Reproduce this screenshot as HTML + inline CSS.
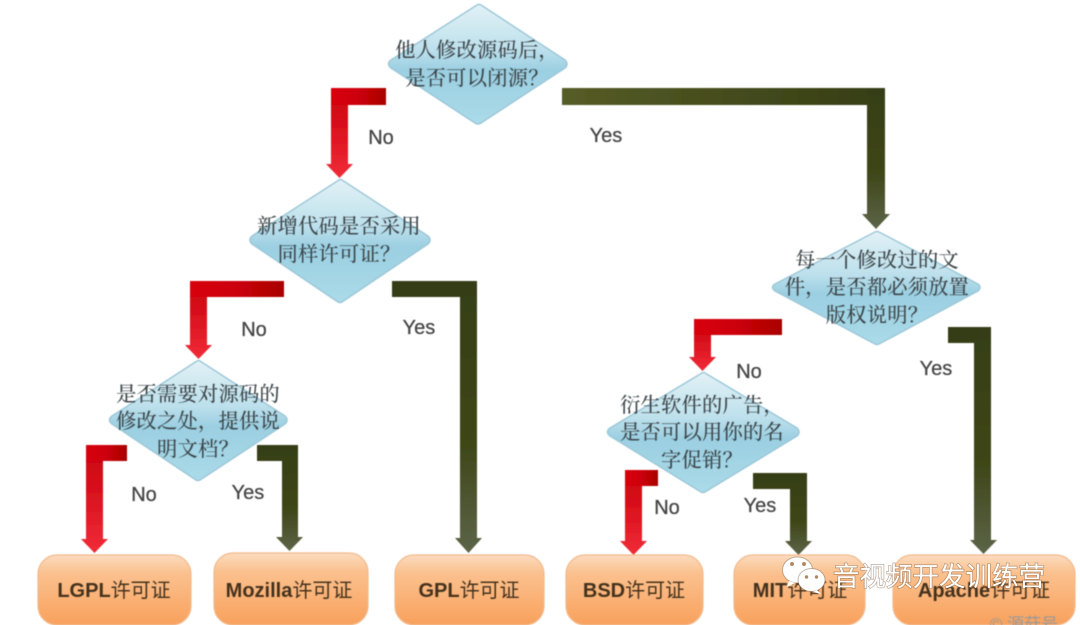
<!DOCTYPE html>
<html><head><meta charset="utf-8"><style>
html,body{margin:0;padding:0;background:#fff;width:1080px;height:625px;overflow:hidden}
svg{display:block}
text{font-family:"Liberation Sans","Noto Sans CJK SC",sans-serif}
.c{font-family:"Noto Serif CJK SC","Liberation Sans",serif;font-size:20.300px;fill:#3c474c;text-anchor:middle;font-weight:500;letter-spacing:.2px}
.l{font-size:20px;fill:#444;stroke:#444;stroke-width:.25;text-anchor:middle}
.b{font-size:20px;fill:#45321e;text-anchor:middle;font-weight:700}
.b tspan{font-family:"Noto Sans CJK SC",sans-serif;font-weight:400}
</style></head><body>
<svg width="1080" height="625" viewBox="0 0 1080 625" xmlns="http://www.w3.org/2000/svg">
<defs>
<linearGradient id="dg" x1="0" y1="0" x2="0" y2="1"><stop offset="0" stop-color="#e2f1f6"/><stop offset=".38" stop-color="#bde0ec"/><stop offset=".55" stop-color="#9bcfe1"/><stop offset="1" stop-color="#abdbe9"/></linearGradient>
<linearGradient id="red" x1="0" y1="0" x2="0" y2="1"><stop offset="0" stop-color="#c8000c"/><stop offset=".5" stop-color="#dc1420"/><stop offset="1" stop-color="#f02c38"/></linearGradient>
<linearGradient id="rh" x1="0" y1="0" x2="1" y2="0"><stop offset="0" stop-color="#d8000e"/><stop offset=".5" stop-color="#cc0008"/><stop offset="1" stop-color="#a80004"/></linearGradient>
<linearGradient id="gh" x1="0" y1="0" x2="1" y2="0"><stop offset="0" stop-color="#565c26"/><stop offset="1" stop-color="#383f15"/></linearGradient>
<linearGradient id="grn" x1="0" y1="0" x2="0" y2="1"><stop offset="0" stop-color="#353e14"/><stop offset=".6" stop-color="#3f4618"/><stop offset="1" stop-color="#5c6448"/></linearGradient>
<linearGradient id="box" x1="0" y1="0" x2="0" y2="1"><stop offset="0" stop-color="#fcdcc0"/><stop offset=".25" stop-color="#fbc18f"/><stop offset="1" stop-color="#f8a15c"/></linearGradient>
<filter id="s" x="-5%" y="-5%" width="110%" height="110%"><feGaussianBlur stdDeviation=".55"/></filter>
<filter id="t" x="-5%" y="-10%" width="110%" height="120%"><feGaussianBlur stdDeviation=".4"/></filter>
</defs>
<g filter="url(#s)">
<g stroke="#9cc8d8" stroke-width="1.5" stroke-linejoin="round" fill="url(#dg)">
<path d="M477 5 Q479 4 481 5 L565 60 Q569 64 565 68 L481 123 Q478 125 475 123 L391 68 Q386 64 391 60Z"/>
<path d="M339 180 Q340 179 342 180 L428 236 Q432 240 428 244 L342 302 Q340 303 338 302 L252 244 Q248 240 252 236Z"/>
<path d="M197 361 Q198 360 200 361 L285 416 Q289 420 285 424 L200 480 Q198 481 196 480 L112 424 Q107 420 112 416Z"/>
<path d="M875 232 Q877 231 879 232 L978 284 Q982 287 978 291 L879 344 Q877 345 875 344 L775 291 Q770 287 775 284Z"/>
<path d="M702 373 Q703 372 705 373 L797 428 Q801 432 797 436 L705 492 Q703 493 701 492 L610 436 Q605 432 610 428Z"/>
</g>
<path fill="url(#red)" d="M386 88V105H348V164H353L339.500 178L326 164H331V88Z"/>
<rect x="331" y="88" width="55" height="17" fill="url(#rh)"/>
<path fill="url(#grn)" d="M562 88H885V214H890L876 229L862 214H867V105H562Z"/>
<rect x="562" y="88" width="305" height="17" fill="url(#gh)"/>
<path fill="url(#red)" d="M284 281V297H207V345H212L198.500 359L185 345H190V281Z"/>
<rect x="190" y="281" width="94" height="16" fill="url(#rh)"/>
<path fill="url(#grn)" d="M392 281H477V538H482L468.500 553L455 538H460V297H392Z"/>
<path fill="url(#red)" d="M127 445V461H103V539H108L94.500 553L81 539H86V445Z"/>
<rect x="86" y="445" width="41" height="16" fill="url(#rh)"/>
<path fill="url(#grn)" d="M257 445H298V537H303L289.500 551L276 537H282V461H257Z"/>
<path fill="url(#red)" d="M782 319V335H711V357H716L702.500 371L689 357H694V319Z"/>
<rect x="694" y="319" width="88" height="16" fill="url(#rh)"/>
<path fill="url(#grn)" d="M948 327H991V540H997L983.500 554L970 540H974V343H948Z"/>
<path fill="url(#red)" d="M658 470V486H642V541H647L633.500 555L620 541H625V470Z"/>
<rect x="625" y="470" width="33" height="16" fill="url(#rh)"/>
<path fill="url(#grn)" d="M753 473H807V541H812L798.500 555L785 541H790V489H753Z"/>
<g fill="url(#box)" stroke="#f3b98c" stroke-width="1.2">
<rect x="38" y="555" width="153" height="70" rx="19"/>
<rect x="214" y="553" width="154" height="72" rx="19"/>
<rect x="395" y="555" width="149" height="70" rx="19"/>
<rect x="566" y="555" width="137" height="70" rx="19"/>
<rect x="734" y="555" width="131" height="70" rx="19"/>
<rect x="893" y="555" width="182" height="70" rx="19"/>
</g>
</g>
<g filter="url(#t)">
<text class="c" x="477" y="57">他人修改源码后，</text>
<text class="c" x="477" y="85">是否可以闭源？</text>
<text class="c" x="339" y="233">新增代码是否采用</text>
<text class="c" x="339" y="261">同样许可证？</text>
<text class="c" x="198" y="401">是否需要对源码的</text>
<text class="c" x="198" y="428">修改之处，提供说</text>
<text class="c" x="198" y="456">明文档？</text>
<text class="c" x="877" y="267">每一个修改过的文</text>
<text class="c" x="877" y="294">件，是否都必须放置</text>
<text class="c" x="877" y="322">版权说明？</text>
<text class="c" x="702" y="412">衍生软件的广告，</text>
<text class="c" x="702" y="439">是否可以用你的名</text>
<text class="c" x="702" y="467">字促销？</text>
<text class="l" x="381" y="144">No</text>
<text class="l" x="606" y="142">Yes</text>
<text class="l" x="254" y="336">No</text>
<text class="l" x="419" y="334">Yes</text>
<text class="l" x="144" y="501">No</text>
<text class="l" x="248" y="499">Yes</text>
<text class="l" x="749" y="378">No</text>
<text class="l" x="936" y="375">Yes</text>
<text class="l" x="667" y="514">No</text>
<text class="l" x="760" y="512">Yes</text>
<text class="b" x="114" y="597">LGPL<tspan>许可证</tspan></text>
<text class="b" x="289" y="597">Mozilla<tspan>许可证</tspan></text>
<text class="b" x="469" y="597">GPL<tspan>许可证</tspan></text>
<text class="b" x="634" y="597">BSD<tspan>许可证</tspan></text>
<text class="b" x="800" y="597">MIT<tspan>许可证</tspan></text>
<text class="b" x="984" y="597">Apache<tspan>许可证</tspan></text>
<text x="1024" y="630" font-size="17" fill="#999" text-anchor="middle">© 源菇号</text>
</g>
<g stroke="#6a4a2a" stroke-opacity=".4" stroke-width="1">
<ellipse cx="797.500" cy="570" rx="15" ry="13" fill="#fff"/>
<path d="M789 581l-2 6 8-4z" fill="#fff" stroke="none"/>
<ellipse cx="811.500" cy="580" rx="13.500" ry="11.500" fill="#fff"/>
<path d="M817 590l4 4-8-2z" fill="#fff" stroke="none"/>
</g>
<g fill="#b08a62">
<circle cx="792" cy="564" r="2"/><circle cx="804" cy="564" r="2"/>
<circle cx="806.500" cy="577" r="1.700"/><circle cx="816.500" cy="577" r="1.700"/>
</g>
<text x="939" y="586" font-size="26.500" fill="#fff" text-anchor="middle" font-family="'Noto Sans CJK SC',sans-serif" font-weight="400" stroke="#6a4a2a" stroke-opacity=".45" stroke-width="1.400" style="paint-order:stroke">音视频开发训练营</text>
</svg>
</body></html>
